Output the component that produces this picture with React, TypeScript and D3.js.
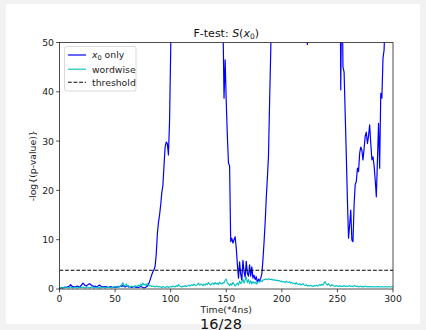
import React from 'react';
import * as d3 from 'd3';

const W = 426;
const H = 330;
const PL = 59.5, PR = 393, PT = 42.5, PB = 289;

// time steps (*4ns)
const times: number[] = d3.range(0, 301);

// -log(p-value) for "x0 only"
const x0Only: number[] = [
  0.1, 0.2, 0.3, 0.2, 0.3, 0.4, 0.3, 0.4, 0.5, 0.6,
  0.9, 0.6, 0.4, 0.5, 0.4, 0.5, 0.6, 0.5, 0.4, 0.6,
  0.8, 1.2, 1.0, 0.7, 0.6, 0.8, 0.9, 1.1, 0.9, 0.7,
  0.6, 0.5, 0.6, 0.4, 0.5, 0.6, 0.8, 0.6, 0.5, 0.4,
  0.5, 0.4, 0.5, 0.4, 0.3, 0.4, 0.5, 0.4, 0.3, 0.4,
  0.4, 0.3, 0.5, 0.4, 0.5, 0.6, 0.5, 0.7, 0.5, 0.4,
  0.5, 0.6, 0.4, 0.5, 0.4, 0.3, 0.4, 0.5, 0.4, 0.3,
  0.4, 0.3, 0.4, 0.5, 0.4, 0.3, 0.2, 0.3, 0.4, 0.6,
  0.9, 1.5, 2.2, 2.9, 3.5, 3.9, 4.6, 7.0, 11.0, 13.5,
  15.0, 17.0, 19.5, 21.0, 25.0, 28.8, 29.8, 29.5, 27.2, 34.0,
  48, 66, 85, 104, 121, 138, 150, 160, 172, 180,
  188, 195, 200, 205, 208, 210, 212, 210, 208, 205,
  200, 198, 196, 192, 188, 185, 180, 176, 170, 165,
  160, 154, 148, 140, 132, 124, 116, 108, 100, 92,
  85, 78, 72, 66, 60, 56, 54, 55, 38.7, 46.5,
  38.0, 31.0, 25.5, 25.0, 9.6, 10.3, 9.3, 10.0, 10.6, 8.3,
  5.0, 2.2, 5.5, 3.0, 1.8, 5.8, 3.5, 2.4, 5.6, 3.2,
  2.6, 4.9, 2.6, 4.5, 2.2, 2.8, 1.9, 2.5, 1.3, 2.0,
  1.6, 2.2, 3.0, 5.9, 9.5, 13.5, 18.5, 22.5, 27.0, 38.0,
  48, 62, 80, 98, 115, 130, 142, 152, 160, 166,
  170, 172, 170, 165, 158, 150, 140, 130, 120, 110,
  100, 92, 85, 78, 72, 67, 63, 60, 58, 56,
  55, 54, 52, 49.6, 52, 55, 58, 62, 66, 70,
  75, 80, 86, 92, 98, 104, 108, 110, 112, 110,
  106, 100, 94, 88, 82, 76, 70, 66, 62, 58,
  62, 75, 85, 40.4, 65, 45, 44, 35.5, 27, 18,
  10.3, 13, 16, 9.9, 9.6, 17, 21.2, 21.8, 24.5, 23.8,
  27.5, 28.8, 28.2, 26.2, 28.5, 31, 31.8, 29.5, 31, 33.3,
  29.5, 26.2, 26.8, 25, 22.1, 18.7, 26, 33.6, 24.5, 39.7,
  38.7, 46.8, 48.5, 56, 70, 85, 100, 112, 122, 130,
  140,
];

// -log(p-value) for "wordwise"
const wordwise: number[] = [
  0.2, 0.3, 0.2, 0.3, 0.2, 0.3, 0.4, 0.3, 0.2, 0.3,
  0.4, 0.3, 0.2, 0.3, 0.4, 0.3, 0.2, 0.3, 0.4, 0.3,
  0.3, 0.4, 0.3, 0.2, 0.3, 0.4, 0.3, 0.2, 0.3, 0.4,
  0.3, 0.2, 0.3, 0.4, 0.3, 0.2, 0.3, 0.2, 0.3, 0.4,
  0.3, 0.2, 0.3, 0.4, 0.3, 0.4, 0.3, 0.2, 0.3, 0.4,
  0.5, 0.4, 0.3, 0.6, 0.4, 0.5, 0.9, 1.3, 0.6, 0.8,
  1.0, 0.5, 0.7, 0.4, 0.5, 0.6, 0.4, 0.5, 0.7, 0.5,
  0.6, 0.8, 0.5, 1.0, 0.7, 1.2, 0.8, 1.0, 0.7, 1.1,
  0.8, 0.6, 0.7, 0.5, 0.6, 0.5, 0.4, 0.6, 0.5, 0.4,
  0.5, 0.4, 0.3, 0.5, 0.4, 0.3, 0.4, 0.5, 0.3, 0.4,
  0.5, 0.4, 0.6, 0.5, 0.4, 0.7, 0.5, 0.9, 0.6, 0.5,
  0.4, 0.6, 0.5, 0.7, 0.5, 0.6, 0.8, 0.6, 0.7, 0.9,
  0.7, 1.0, 0.8, 0.7, 0.9, 1.2, 0.8, 1.0, 0.9, 0.7,
  1.0, 0.8, 1.1, 0.9, 1.3, 1.0, 0.8, 1.1, 1.2, 0.9,
  1.3, 1.0, 1.2, 0.9, 1.4, 1.1, 1.0, 1.3, 1.2, 1.8,
  2.0, 1.2, 1.0, 0.7, 1.1, 0.8, 1.3, 1.0, 0.6, 0.9,
  1.2, 0.8, 1.6, 1.1, 1.4, 2.0, 1.2, 1.8, 2.4, 1.3,
  1.9, 1.1, 1.7, 1.0, 1.5, 1.2, 1.4, 1.0, 1.3, 1.6,
  1.4, 1.7, 1.5, 1.8, 1.9, 2.0, 2.0, 1.9, 2.1, 2.0,
  1.9, 2.0, 1.8, 1.9, 1.8, 1.7, 1.8, 1.6, 1.7, 1.5,
  1.6, 1.4, 1.5, 1.3, 1.6, 1.4, 1.3, 1.5, 1.2, 1.3,
  1.1, 1.2, 1.0, 1.3, 1.0, 0.9, 1.1, 0.8, 0.9, 1.1,
  0.8, 0.7, 0.9, 0.6, 0.7, 0.6, 0.8, 0.6, 0.5, 0.7,
  0.6, 0.8, 0.6, 0.7, 0.9, 0.7, 1.0, 0.8, 1.2, 1.5,
  1.0, 0.8, 1.1, 0.7, 0.6, 0.9, 0.7, 0.6, 0.5, 0.7,
  0.6, 0.5, 0.7, 0.5, 0.6, 0.5, 0.7, 0.5, 0.6, 0.5,
  0.6, 0.7, 0.5, 0.6, 0.5, 0.7, 0.6, 0.5, 0.6, 0.4,
  0.5, 0.6, 0.4, 0.5, 0.4, 0.6, 0.5, 0.4, 0.5, 0.4,
  0.5, 0.4, 0.5, 0.4, 0.4, 0.5, 0.4, 0.5, 0.4, 0.4,
  0.5, 0.4, 0.4, 0.5, 0.4, 0.4, 0.5, 0.4, 0.4, 0.5,
  0.4,
];

const thresholdValue = 3.8;
const xTicks = [0, 50, 100, 150, 200, 250, 300];
const yTicks = [0, 10, 20, 30, 40, 50];
const xDomain = [0, 300];
const yDomain = [0, 50];
const pageLabel = '16/28';

const FONT = 'DejaVu Sans, sans-serif';
const BLUE = '#0000ff';
const CYAN = '#00bfbf';

export default function App() {
  const x = d3.scaleLinear().domain(xDomain).range([PL, PR]);
  const y = d3.scaleLinear().domain(yDomain).range([PB, PT]);
  const line = d3
    .line<number>()
    .x((_, i) => x(times[i]))
    .y((d) => y(d));
  const cx = (PL + PR) / 2;

  return (
    <svg
      width={W}
      height={H}
      style={{ position: 'fixed', left: 0, top: 0, display: 'block' }}
      fontFamily={FONT}
    >
      <rect x={0} y={0} width={W} height={H} fill="#f2f2f2" />
      <rect x={6} y={4} width={414} height={320} fill="#ffffff" />
      <defs>
        <clipPath id="plotclip">
          <rect x={PL} y={PT} width={PR - PL} height={PB - PT} />
        </clipPath>
      </defs>

      <g clipPath="url(#plotclip)">
        <path d={line(x0Only) || ''} fill="none" stroke={BLUE} strokeWidth={1.2} strokeLinejoin="round" />
        <path d={line(wordwise) || ''} fill="none" stroke={CYAN} strokeWidth={1.1} strokeLinejoin="round" />
        <line
          x1={x(xDomain[0])}
          x2={x(xDomain[1])}
          y1={y(thresholdValue)}
          y2={y(thresholdValue)}
          stroke="#000"
          strokeWidth={1.1}
          strokeDasharray="3.7,1.9"
        />
      </g>

      {/* spines */}
      <rect x={PL} y={PT} width={PR - PL} height={PB - PT} fill="none" stroke="#222" strokeWidth={0.8} />

      {/* x ticks */}
      {xTicks.map((t) => (
        <g key={'x' + t}>
          <line x1={x(t)} x2={x(t)} y1={PB} y2={PB + 3.3} stroke="#222" strokeWidth={0.8} />
          <text x={x(t)} y={PB + 13.2} fontSize={9.3} textAnchor="middle" fill="#222">
            {t}
          </text>
        </g>
      ))}
      {/* y ticks */}
      {yTicks.map((t) => (
        <g key={'y' + t}>
          <line x1={PL - 3.3} x2={PL} y1={y(t)} y2={y(t)} stroke="#222" strokeWidth={0.8} />
          <text x={PL - 5.5} y={y(t) + 3.4} fontSize={9.3} textAnchor="end" fill="#222">
            {t}
          </text>
        </g>
      ))}

      {/* title */}
      <text x={cx} y={36.5} fontSize={11} textAnchor="middle" fill="#111">
        <tspan>F-test: </tspan>
        <tspan fontStyle="italic">S</tspan>
        <tspan>(</tspan>
        <tspan fontStyle="italic">x</tspan>
        <tspan fontSize={7.5} dy={2}>0</tspan>
        <tspan dy={-2}>)</tspan>
      </text>

      {/* axis labels */}
      <text x={cx} y={312.5} fontSize={9.3} textAnchor="middle" fill="#222">
        Time(*4ns)
      </text>
      <text
        transform={`translate(36,${(PT + PB) / 2}) rotate(-90)`}
        fontSize={9.3}
        textAnchor="middle"
        fill="#222"
      >
        -log{'{'}(p-value){'}'}
      </text>

      {/* legend */}
      <g>
        <rect x={64.5} y={46.5} width={71.5} height={44.5} rx={2} fill="#fff" fillOpacity={0.8} stroke="#d0d0d0" strokeWidth={0.8} />
        <line x1={68} x2={86} y1={55} y2={55} stroke={BLUE} strokeWidth={1.2} />
        <text x={92} y={58.3} fontSize={9.3} fill="#222">
          <tspan fontStyle="italic">x</tspan>
          <tspan fontSize={6.5} dy={1.8}>0</tspan>
          <tspan dy={-1.8}> only</tspan>
        </text>
        <line x1={68} x2={86} y1={69.2} y2={69.2} stroke={CYAN} strokeWidth={1.1} />
        <text x={92} y={72.5} fontSize={9.3} fill="#222">wordwise</text>
        <line x1={68} x2={86} y1={82.2} y2={82.2} stroke="#000" strokeWidth={1.1} strokeDasharray="3.7,1.9" />
        <text x={92} y={85.5} fontSize={9.3} fill="#222">threshold</text>
      </g>

      {/* page number */}
      <text x={221} y={328.5} fontSize={14.5} textAnchor="middle" fill="#111">
        {pageLabel}
      </text>
    </svg>
  );
}
